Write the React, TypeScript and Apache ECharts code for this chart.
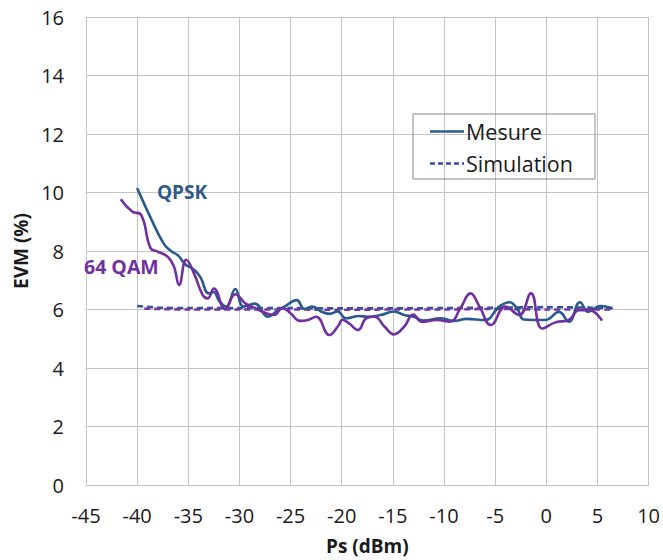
import React, { useEffect, useRef } from "react";
import * as echarts from "echarts";

// Ps (dBm), EVM (%)
const qpskMeasured: [number, number][] = [
  [-40.0, 10.15], [-38.7, 9.15], [-37.4, 8.25], [-36.7, 8.0], [-36.0, 7.85],
  [-35.3, 7.55], [-34.4, 7.35], [-33.8, 7.1], [-33.0, 6.55], [-32.5, 6.6],
  [-32.0, 6.3], [-31.3, 6.1], [-30.4, 6.7], [-29.6, 6.1], [-28.5, 6.2],
  [-27.2, 5.75], [-26.4, 5.93], [-25.6, 6.1], [-24.4, 6.32], [-23.65, 6.02],
  [-22.85, 6.1], [-22.0, 5.93], [-21.2, 5.85], [-20.4, 5.93], [-19.6, 5.7],
  [-18.3, 5.78], [-17.5, 5.75], [-16.2, 5.81], [-14.9, 5.93], [-13.9, 5.81],
  [-12.95, 5.75], [-12.0, 5.62], [-10.35, 5.7], [-9.05, 5.61], [-7.8, 5.68],
  [-6.0, 5.64], [-4.6, 6.1], [-3.6, 6.25], [-2.8, 6.0], [-2.2, 5.66],
  [-0.1, 5.64], [1.25, 5.92], [2.2, 5.58], [3.3, 6.25], [4.1, 5.92],
  [5.3, 6.12], [6.4, 6.04],
];

const qam64Measured: [number, number][] = [
  [-41.6, 9.77], [-40.5, 9.35], [-39.6, 9.23], [-38.7, 8.1], [-38.0, 7.98],
  [-37.0, 7.8], [-36.4, 7.46], [-35.9, 6.84], [-35.2, 7.7], [-34.4, 7.2],
  [-33.6, 6.5], [-33.1, 6.38], [-32.5, 6.72], [-31.4, 6.02], [-30.4, 6.52],
  [-29.4, 6.2], [-28.4, 6.04], [-27.4, 5.87], [-26.6, 5.81], [-25.8, 6.05],
  [-25.0, 5.87], [-24.1, 5.61], [-23.3, 5.64], [-22.5, 5.75], [-21.2, 5.13],
  [-20.4, 5.41], [-19.9, 5.65], [-19.3, 5.53], [-18.4, 5.3], [-17.6, 5.7],
  [-16.8, 5.75], [-15.8, 5.41], [-14.9, 5.15], [-13.9, 5.41], [-13.0, 5.83],
  [-12.15, 5.58], [-10.7, 5.64], [-9.4, 5.58], [-8.4, 6.04], [-7.4, 6.55],
  [-6.6, 6.15], [-5.4, 5.47], [-4.0, 6.1], [-2.65, 5.81], [-1.5, 6.55],
  [-0.4, 5.35], [0.9, 5.56], [2.2, 5.64], [3.2, 5.98], [4.2, 5.98],
  [5.45, 5.62],
];

const qpskSimulated: [number, number][] = [
  [-40.0, 6.12], [-37.5, 6.06], [-35, 6.05], [-30, 6.05], [-25, 6.05],
  [-20, 6.04], [-15, 6.04], [-10, 6.05], [-5, 6.06], [0, 6.08],
  [5, 6.06], [6.5, 6.05],
];

const qam64Simulated: [number, number][] = [
  [-39.3, 6.03], [-35, 6.0], [-30, 6.0], [-25, 6.0], [-20, 5.99],
  [-15, 6.0], [-10, 6.0], [-5, 6.02], [0, 6.0], [5, 6.0], [6.5, 6.0],
];

const xMin = -45;
const xMax = 10;
const xInterval = 5;
const yMin = 0;
const yMax = 16;
const yInterval = 2;

const xTitle = "Ps (dBm)";
const yTitle = "EVM (%)";
const legendNames = ["Mesure", "Simulation"];
const curveLabels = ["QPSK", "64 QAM"];

const BLUE = "#2A5A8C";
const PURPLE = "#7030A0";
const BLUE_DASH = "#34529C";
const PURPLE_DASH = "#7436A6";
const GRID = "#C4C4C4";
const FONT = "'Open Sans', 'Noto Sans', sans-serif";

export default function App() {
  const ref = useRef<HTMLDivElement>(null);

  useEffect(() => {
    if (!ref.current) return;
    const chart = echarts.init(ref.current, undefined, { renderer: "svg" });

    const lineSeries = (
      name: string,
      data: [number, number][],
      color: string,
      dashed: boolean,
      z: number
    ) => ({
      name,
      type: "line",
      data,
      smooth: dashed ? 0.3 : 0.45,
      showSymbol: false,
      symbol: "none",
      z,
      lineStyle: {
        color,
        width: 2.6,
        type: dashed ? [6, 4] : "solid",
      },
    });

    chart.setOption({
      animation: false,
      grid: { left: 86, right: 13, top: 17, bottom: 75, containLabel: false },
      xAxis: {
        type: "value",
        min: xMin,
        max: xMax,
        interval: xInterval,
        name: xTitle,
        nameLocation: "middle",
        nameGap: 51,
        nameTextStyle: { fontFamily: FONT, fontSize: 19, fontWeight: "bold", color: "#1a1a1a" },
        axisLine: { show: true, onZero: false, lineStyle: { color: GRID, width: 1 } },
        axisTick: { show: false },
        axisLabel: { fontFamily: FONT, fontSize: 20, color: "#1a1a1a", margin: 20 },
        splitLine: { show: true, lineStyle: { color: GRID, width: 1 } },
      },
      yAxis: {
        type: "value",
        min: yMin,
        max: yMax,
        interval: yInterval,
        name: yTitle,
        nameLocation: "middle",
        nameGap: 46,
        nameTextStyle: { fontFamily: FONT, fontSize: 19, fontWeight: "bold", color: "#1a1a1a" },
        axisLine: { show: true, lineStyle: { color: GRID, width: 1 } },
        axisTick: { show: false },
        axisLabel: { fontFamily: FONT, fontSize: 20, color: "#1a1a1a", margin: 22 },
        splitLine: { show: true, lineStyle: { color: GRID, width: 1 } },
      },
      series: [
        lineSeries("QPSK " + legendNames[1], qpskSimulated, BLUE_DASH, true, 2),
        lineSeries("64 QAM " + legendNames[1], qam64Simulated, PURPLE_DASH, true, 3),
        lineSeries("QPSK " + legendNames[0], qpskMeasured, BLUE, false, 4),
        lineSeries("64 QAM " + legendNames[0], qam64Measured, PURPLE, false, 5),
      ],
      graphic: [
        {
          type: "rect",
          shape: { x: 413, y: 114, width: 182, height: 65 },
          style: { fill: "none", stroke: "#8A8A8A", lineWidth: 1 },
          z: 10,
        },
        {
          type: "line",
          shape: { x1: 430, y1: 131.5, x2: 464, y2: 131.5 },
          style: { stroke: BLUE, lineWidth: 2.4 },
          z: 10,
        },
        {
          type: "line",
          shape: { x1: 430, y1: 163.5, x2: 464, y2: 163.5 },
          style: { stroke: BLUE_DASH, lineWidth: 2.4, lineDash: [5, 3] },
          z: 10,
        },
        {
          type: "text",
          x: 466,
          y: 131.5,
          style: {
            text: legendNames[0],
            fontFamily: FONT,
            fontSize: 21.5,
            fill: "#1a1a1a",
            verticalAlign: "middle",
            align: "left",
          },
          z: 10,
        },
        {
          type: "text",
          x: 466,
          y: 163.5,
          style: {
            text: legendNames[1],
            fontFamily: FONT,
            fontSize: 21.5,
            fill: "#1a1a1a",
            verticalAlign: "middle",
            align: "left",
          },
          z: 10,
        },
        {
          type: "text",
          x: 157,
          y: 192,
          style: {
            text: curveLabels[0],
            fontFamily: FONT,
            fontSize: 19,
            fontWeight: "bold",
            fill: "#2E5A8A",
            verticalAlign: "middle",
            align: "left",
          },
          z: 10,
        },
        {
          type: "text",
          x: 84,
          y: 266,
          style: {
            text: curveLabels[1],
            fontFamily: FONT,
            fontSize: 19.5,
            fontWeight: "bold",
            fill: PURPLE,
            verticalAlign: "middle",
            align: "left",
          },
          z: 10,
        },
      ],
    });

    return () => chart.dispose();
  }, []);

  return (
    <div
      ref={ref}
      style={{ position: "fixed", left: 0, top: 0, width: 663, height: 560, background: "#fff" }}
    />
  );
}
